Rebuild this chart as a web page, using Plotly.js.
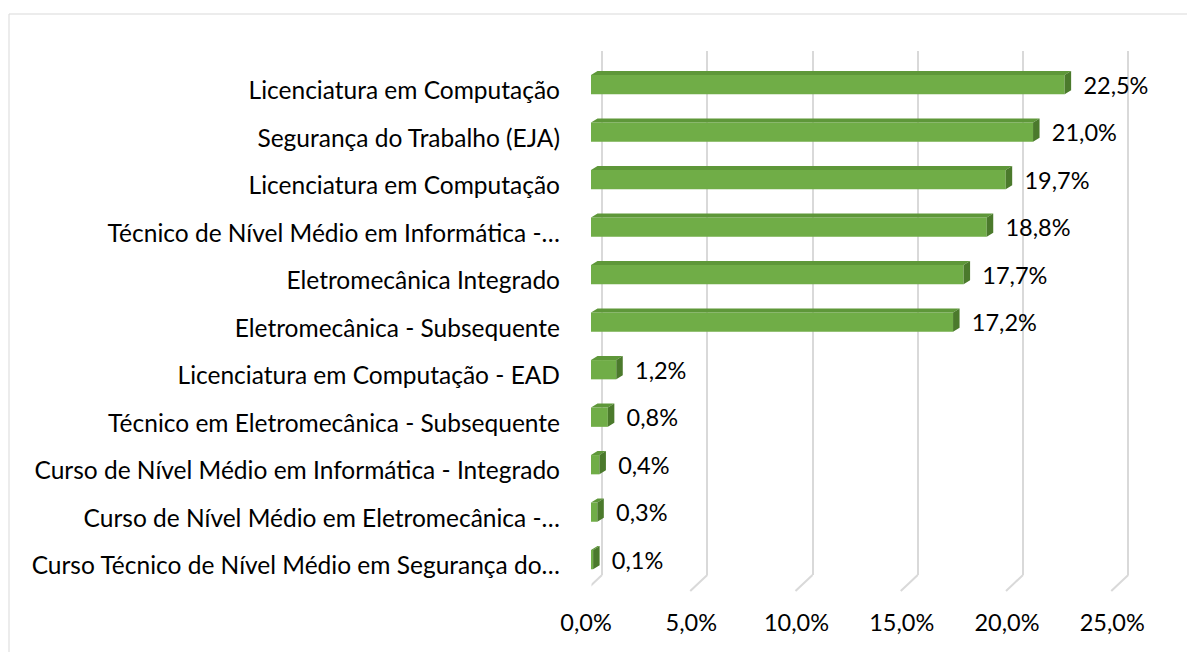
<!DOCTYPE html>
<html>
<head>
<meta charset="utf-8">
<script src="https://cdn.plot.ly/plotly-3.0.1.min.js"></script>
<style>html,body{margin:0;padding:0;background:#fff;} #chart{width:1187px;height:652px;}</style>
</head>
<body>
<div id="chart"></div>
<script>
// ---- data ----
const categories = [
  "Licenciatura em Computação",
  "Segurança do Trabalho (EJA)",
  "Licenciatura em Computação",
  "Técnico de Nível Médio em Informática -…",
  "Eletromecânica Integrado",
  "Eletromecânica - Subsequente",
  "Licenciatura em Computação - EAD",
  "Técnico em Eletromecânica - Subsequente",
  "Curso de Nível Médio em Informática - Integrado",
  "Curso de Nível Médio em Eletromecânica -…",
  "Curso Técnico de Nível Médio em Segurança do…"
];
const values = [22.5, 21.0, 19.7, 18.8, 17.7, 17.2, 1.2, 0.8, 0.4, 0.3, 0.1];
const xTicks = [0, 5, 10, 15, 20, 25];

// ---- style ----
const W = 1187, H = 652;
const FONT = "Lato, 'Open Sans', sans-serif";
const frontColor = "#70AD47", topColor = "#5E9739", sideColor = "#4B7A2C";
const gridColor = "#D9D9D9";
const px = p => p / W, py = p => 1 - p / H;
const DX = 0.309;   // 3D depth in x (data units, ~6.5px)
const DY = 0.084;   // 3D depth in y (index units, ~4px)
const HALF = 0.203; // half bar thickness (index units)
const LABEL_DY = 0.07;
const PAD = 0.5;    // range padding so edge gridlines render
const UNIT = 21.05; // px per percent

const idx = categories.map((_, i) => i);
const fmt = v => v.toFixed(1).replace('.', ',') + '%';

// polygons for top and side faces
const topX = [], topY = [], sideX = [], sideY = [];
values.forEach((v, i) => {
  const t = i - HALF, b = i + HALF;
  topX.push(0, v, v + DX, DX, 0, null);
  topY.push(t, t, t - DY, t - DY, t, null);
  sideX.push(v, v + DX, v + DX, v, v, null);
  sideY.push(t, t - DY, b - DY, b, t, null);
});

const traces = [
  {type: 'scatter', x: [0, 25], y: [0, 1], xaxis: 'x', yaxis: 'y', mode: 'markers',
   marker: {opacity: 0}, hoverinfo: 'skip', showlegend: false},
  {type: 'bar', orientation: 'h', x: values, y: idx, xaxis: 'x2', yaxis: 'y2',
   width: 2 * HALF, marker: {color: frontColor, line: {width: 0}},
   hovertext: categories, hoverinfo: 'text+x', showlegend: false},
  {type: 'scatter', x: topX, y: topY, xaxis: 'x2', yaxis: 'y2', mode: 'lines',
   fill: 'toself', fillcolor: topColor, line: {width: 0, color: topColor},
   hoverinfo: 'skip', showlegend: false},
  {type: 'scatter', x: sideX, y: sideY, xaxis: 'x2', yaxis: 'y2', mode: 'lines',
   fill: 'toself', fillcolor: sideColor, line: {width: 0, color: sideColor},
   hoverinfo: 'skip', showlegend: false},
  {type: 'scatter', x: values.map(v => v + DX), y: idx.map(i => i + LABEL_DY), xaxis: 'x2', yaxis: 'y2',
   mode: 'markers+text', marker: {size: 18, opacity: 0}, cliponaxis: false,
   text: values.map(fmt), textposition: 'middle right',
   textfont: {family: FONT, size: 23.5, color: '#000'}, hoverinfo: 'skip', showlegend: false}
];

const shapes = [
  {type: 'rect', xref: 'paper', yref: 'paper', x0: px(9), x1: px(1200), y0: py(14), y1: py(670),
   line: {color: gridColor, width: 1}, layer: 'below'}
];
xTicks.forEach(t => {
  shapes.push({type: 'line', xref: 'x', yref: 'paper', xsizemode: 'pixel', xanchor: t,
    x0: 0, x1: -17, ysizemode: 'pixel', yanchor: py(575), y0: 0, y1: -16,
    line: {color: gridColor, width: 2}, layer: 'below'});
});

const layout = {
  width: W, height: H,
  margin: {l: 0, r: 0, t: 0, b: 0},
  paper_bgcolor: '#fff', plot_bgcolor: 'rgba(0,0,0,0)',
  separators: ',.',
  showlegend: false,
  font: {family: FONT, size: 21, color: '#000'},
  xaxis: {domain: [px(602 - PAD * UNIT), px(602 + (25 + PAD) * UNIT)], range: [-PAD, 25 + PAD], anchor: 'y',
    tickvals: xTicks, ticktext: xTicks.map(fmt),
    showgrid: true, gridcolor: gridColor, gridwidth: 2, zeroline: false, showline: false,
    ticks: '', ticklabelstandoff: 31, ticklabelshift: -16,
    tickfont: {family: FONT, size: 23.5, color: '#000'}, fixedrange: true},
  yaxis: {domain: [py(575), py(51)], range: [0, 1], visible: false, fixedrange: true, anchor: 'x'},
  xaxis2: {domain: [px(591), px(591 + 25 * UNIT)], range: [0, 25], anchor: 'y2', visible: false, fixedrange: true},
  yaxis2: {domain: [py(583.45), py(60.95)], range: [10.5, -0.5], anchor: 'x2',
    tickvals: idx, ticktext: categories, showgrid: false, zeroline: false, showline: false,
    ticks: '', ticklabelstandoff: 30, ticklabelshift: -6,
    tickfont: {family: FONT, size: 24.5, color: '#000'}, fixedrange: true},
  shapes: shapes
};

Plotly.newPlot('chart', traces, layout, {displayModeBar: false, staticPlot: true});
</script>
</body>
</html>
